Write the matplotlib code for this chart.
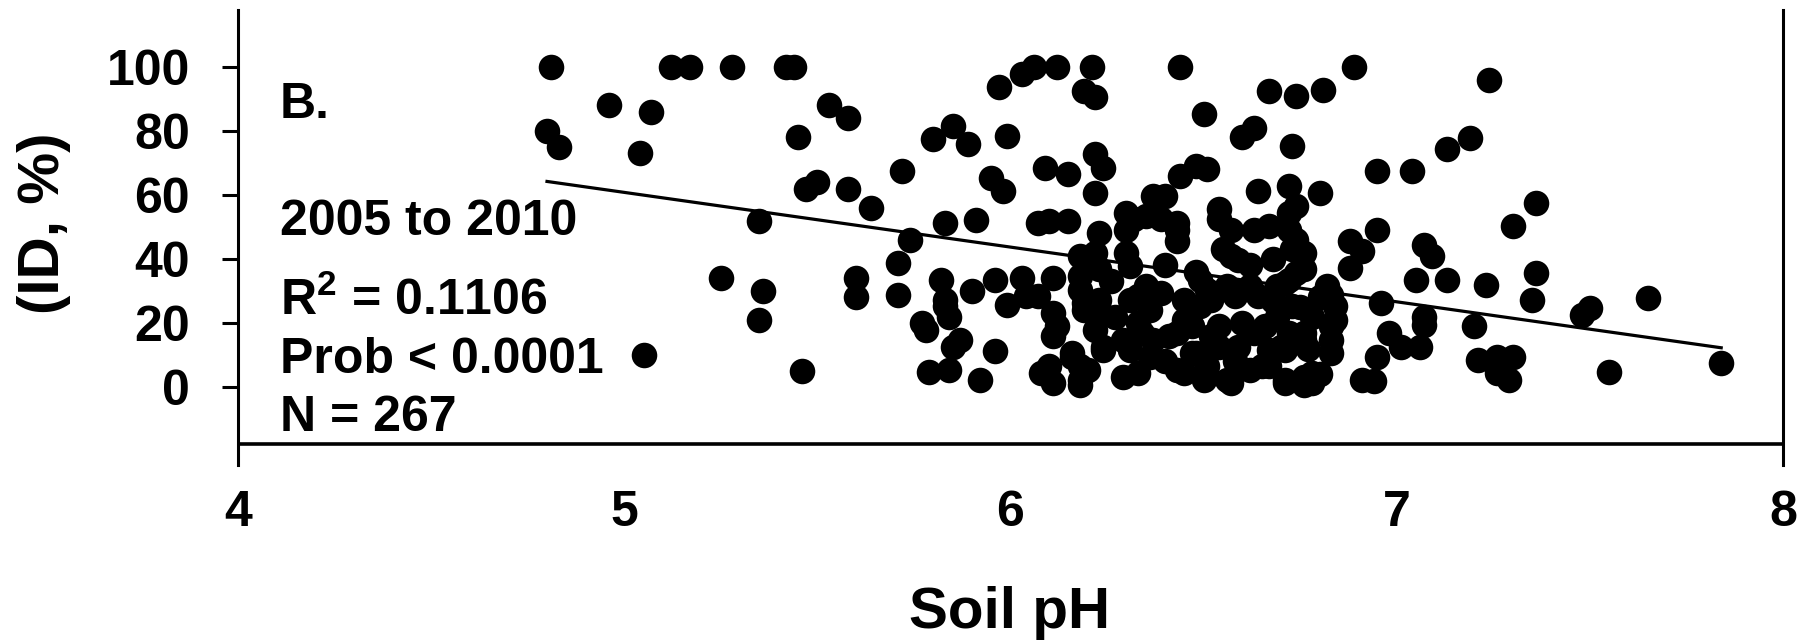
"""Scatter of ID (%) against soil pH, 2005 to 2010, with linear trend line."""

import numpy as np
import matplotlib.pyplot as plt

plt.rcParams['font.family'] = ['Liberation Sans', 'DejaVu Sans']
plt.rcParams['font.weight'] = 'bold'
plt.rcParams['mathtext.fontset'] = 'custom'
plt.rcParams['mathtext.rm'] = 'Liberation Sans'
plt.rcParams['mathtext.bf'] = 'Liberation Sans:bold'

# Data (soil pH, ID %)
soil_ph = [
    4.81, 4.80, 4.83, 4.96, 5.07, 5.04, 5.12, 5.17, 5.28, 5.42, 5.44, 5.53, 5.58, 5.45,
    5.50, 5.47, 5.58, 5.64, 5.35, 5.25, 5.36, 5.35, 5.60, 5.60, 5.05, 5.46,
    5.72, 5.71, 5.71, 5.74, 5.85, 5.80, 5.89, 5.99, 5.97, 6.03, 6.06, 6.12, 6.21, 6.19,
    6.22, 6.44, 6.67, 6.74, 6.81, 6.50, 6.60, 6.63, 6.73, 5.95, 5.98, 6.09, 6.15, 6.22,
    6.24, 6.22, 6.48, 6.51, 6.44, 6.40, 6.37, 6.54, 6.57, 6.64, 6.72, 6.63, 6.72, 6.30,
    6.30, 6.35, 6.43, 6.43, 6.57, 5.83, 5.91, 6.07, 6.10, 6.15, 6.23, 6.31, 6.18, 5.82,
    5.90, 5.96, 6.03, 6.11, 5.99, 6.04, 6.07, 5.83, 5.84, 5.78, 5.87, 5.77, 5.85, 5.96,
    6.12, 6.11, 5.79, 5.84, 5.92, 6.08, 6.11, 6.16, 6.18, 6.18, 6.24, 6.29, 6.18, 6.19,
    6.23, 6.23, 5.83,
    6.32, 6.39, 6.43, 6.54, 6.59, 6.67, 6.74, 6.74, 6.11, 6.18, 6.22, 6.19, 6.23, 6.33,
    6.39, 6.36, 6.45, 6.49, 6.51, 6.58, 6.64, 6.71, 6.73, 6.66, 6.76, 6.16, 6.20, 6.24,
    6.29, 6.33, 6.36, 6.34, 6.41, 6.47, 6.45, 6.51, 6.56, 6.62, 6.67, 6.71, 6.76, 6.47,
    6.54, 6.59, 6.22, 6.10, 6.18,
    6.31, 6.35, 6.33, 6.37, 6.31, 6.43, 6.43, 6.48, 6.50, 6.52, 6.49, 6.56, 6.54, 6.63,
    6.65, 6.57, 6.69, 6.69, 6.70, 6.71, 6.73,
    6.89, 7.24, 7.13, 7.19, 6.95, 7.04, 6.80, 7.36, 7.30, 6.72, 6.95, 6.88, 6.91, 6.88,
    7.07, 7.09, 7.05, 7.13, 7.23, 7.36, 7.35, 6.76, 6.76, 6.83, 6.96, 7.07, 7.07, 7.20,
    6.98, 7.01, 7.06, 6.95, 6.91, 6.94, 7.21, 7.26, 7.30, 7.29, 7.26, 6.84, 6.83, 6.80,
    6.78, 6.77, 7.50, 7.48, 7.65, 7.55, 7.84,
    6.74, 6.72, 6.62, 6.82, 6.84, 6.76, 6.71, 6.67, 6.76, 6.78, 6.83, 6.83, 6.80,
    6.60, 6.45, 6.75, 6.78, 6.62, 6.55, 6.68, 6.40, 6.48, 6.30, 6.26, 6.27, 6.40, 6.58,
    6.52, 6.68, 6.72,
]
id_pct = [
    100, 80, 75, 88, 86, 73, 100, 100, 100, 100, 100, 88, 84, 78,
    64, 62, 62, 56, 52, 34, 30, 21, 34, 28, 10, 5,
    67.5, 38.7, 28.8, 46, 81.6, 77.4, 75.9, 78.5, 93.6, 97.8, 100, 100, 100, 92.6,
    90.5, 100, 92.6, 91, 92.9, 85.3, 78, 81, 75.3, 65.4, 61.2, 68.5, 66.5, 72.7,
    68.5, 60.7, 69, 68, 66, 59.6, 59.6, 55.5, 49.2, 61.2, 62.8, 49.2, 49, 54.4,
    49.2, 53.4, 49.2, 45.6, 40.9, 51.3, 52.3, 51.3, 51.8, 51.8, 48.1, 37.7, 40.8, 33.5,
    29.9, 33.5, 34, 34, 25.7, 28.3, 28.3, 27.3, 22, 17.9, 14.7, 19.9, 12.6, 11.1,
    18.9, 15.8, 4.8, 5.3, 2.2, 4.3, 1.2, 9.5, 6.4, 2.2, 12.6, 3.2, 30.4, 24.1,
    27.3, 37, 25.2,
    52.4, 52.4, 51.3, 52.4, 39.8, 50.3, 56.5, 46, 23, 34.6, 41.9, 26.2, 24.1, 28.3,
    29.4, 24.1, 27.3, 25.2, 30.4, 28.3, 28.3, 32.5, 25.2, 18.9, 14.7, 10.5, 5.3, 11.6,
    14.7, 4.3, 9.5, 16.8, 15.8, 18.9, 4.3, 6.4, 2.2, 5.3, 11.6, 2.2, 3.2, 10.5,
    12.6, 12.6, 17.9, 6.4, 0.5,
    27.3, 31.4, 19.9, 14.7, 11.6, 16.8, 5.3, 10.5, 2.2, 27.3, 33.5, 31.4, 18.9, 16.8,
    6.4, 1.2, 31.4, 22, 12.6, 1.2, 43,
    100, 96, 74.3, 77.9, 67.5, 67.5, 60.7, 57.6, 50.3, 54.5, 49.2, 45.6, 42.4, 37.2,
    44.5, 40.8, 33.5, 33.5, 32, 35.6, 27.3, 41.9, 36.7, 28.8, 26.2, 22, 19.5, 18.9,
    16.8, 12.6, 12.6, 9.5, 2.2, 1.7, 8.5, 9.5, 9.5, 2.2, 4.5, 21, 14.7, 28,
    4.3, 12, 24.7, 22.6, 27.8, 4.8, 7.4,
    35.7, 33.5, 31.4, 31.4, 25.2, 16.8, 11.6, 6.4, 0.5, 1.2, 10.5, 19, 4,
    20, 21, 25, 22, 38, 43, 40, 38, 36, 42, 33, 22, 8, 8,
    16, 27, 17,
]

# Trend line
trend_slope = -17.1
trend_intercept = 146.3

x_ticks = [4, 5, 6, 7, 8]
y_ticks = [0, 20, 40, 60, 80, 100]
x_axis_cross = -17.8

stats_lines = ['2005 to 2010', r'R$^{\mathbf{2}}$ = 0.1106', 'Prob < 0.0001', 'N = 267']


def main():
    W, H = 1807, 642
    fig = plt.figure(figsize=(W / 100, H / 100), dpi=100)
    ax = fig.add_axes([238 / W, 1 - 465 / H, (1783 - 238) / W, (465 - 10) / H])

    x = np.asarray(soil_ph)
    y = np.asarray(id_pct)
    ax.scatter(x, y, s=18.4 ** 2, color='black', linewidths=0, zorder=3)

    xs = np.array([x.min(), x.max()])
    ax.plot(xs, trend_intercept + trend_slope * xs, color='black', linewidth=2.3, zorder=4)

    ax.axhline(x_axis_cross, color='black', linewidth=2.6)

    ax.set_xlim(4, 8)
    ax.set_ylim(-24.4, 117.8)
    ax.set_xticks(x_ticks)
    ax.set_yticks(y_ticks)
    ax.tick_params(axis='x', length=0, pad=18, labelsize=36)
    ax.tick_params(axis='y', direction='out', length=11.5, width=2.2, pad=23, labelsize=36)
    for lab in ax.get_xticklabels() + ax.get_yticklabels():
        lab.set_fontweight('bold')

    for side in ('top', 'bottom'):
        ax.spines[side].set_visible(False)
    for side in ('left', 'right'):
        ax.spines[side].set_linewidth(2.2)

    # Panel label and statistics
    ax.text(4.109, 84.1, 'B.', fontsize=36, fontweight='bold', va='baseline')
    baselines = [47.5, 22.5, 4.4, -13.75]
    for txt, yb in zip(stats_lines, baselines):
        ax.text(4.109, yb, txt, fontsize=36, fontweight='bold', va='baseline')

    fig.text(44 / W, 1 - 223 / H, '(ID, %)', rotation=90, ha='center', va='center',
             fontsize=42, fontweight='bold')
    fig.text(1010 / W, 1 - 613 / H, 'Soil pH', ha='center', va='center',
             fontsize=42, fontweight='bold')

    fig.savefig('out.png', dpi=100)


if __name__ == '__main__':
    main()
